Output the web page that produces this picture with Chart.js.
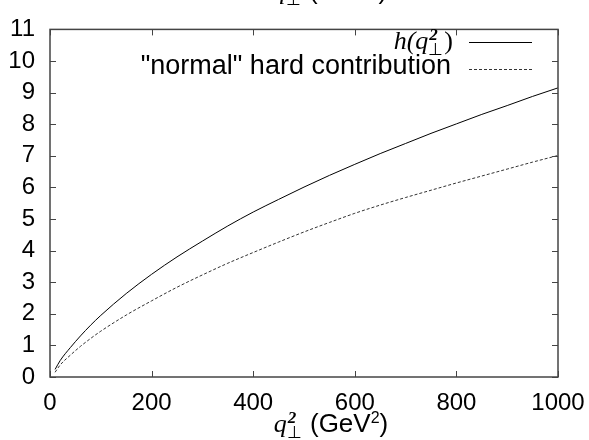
<!DOCTYPE html>
<html>
<head>
<meta charset="utf-8">
<script src="https://cdn.jsdelivr.net/npm/chart.js@4.4.1/dist/chart.umd.min.js"></script>
<style>
  html, body { margin: 0; padding: 0; background: #fff; }
  #wrap { width: 589px; height: 440px; position: relative; }
</style>
</head>
<body>
<div id="wrap"><canvas id="chart"></canvas></div>
<script>
// q_perp^2 values (GeV^2)
const qValues = [10, 20, 40, 60, 80, 100, 150, 200, 250, 300, 350, 400, 450, 500, 550, 600, 650, 700, 750, 800, 850, 900, 950, 1000];
// h(q_perp^2)
const hValues = [0.24, 0.52, 0.93, 1.30, 1.64, 1.95, 2.64, 3.25, 3.80, 4.30, 4.78, 5.22, 5.62, 6.01, 6.38, 6.73, 7.07, 7.39, 7.71, 8.01, 8.31, 8.59, 8.88, 9.15];
// "normal" hard contribution
const normalValues = [0.15, 0.38, 0.69, 0.97, 1.22, 1.45, 1.96, 2.41, 2.84, 3.23, 3.60, 3.94, 4.27, 4.59, 4.89, 5.18, 5.44, 5.68, 5.91, 6.14, 6.36, 6.58, 6.80, 7.01];

const xTicks = [0, 200, 400, 600, 800, 1000];
const yTicks = [0, 1, 2, 3, 4, 5, 6, 7, 8, 9, 10, 11];

const SANS = '"Liberation Sans", Arial, Helvetica, sans-serif';
const SERIF = '"Liberation Serif", "Times New Roman", serif';
const FRAME = '#444';

// q⊥² drawn piecewise: italic q, subscript ⊥, superscript 2
function drawQperp2(ctx, x, y, size) {
    ctx.font = 'italic ' + size + 'px ' + SERIF;
    ctx.fillText('q', x, y);
    const qw = ctx.measureText('q').width;
    const small = Math.round(size * 0.66);
    ctx.font = small + 'px ' + SERIF;
    ctx.fillText('⊥', x + qw, y + size * 0.24);
    ctx.font = 'bold italic ' + small + 'px ' + SERIF;
    ctx.fillText('2', x + qw + 1, y - size * 0.36);
    return qw + ctx.measureText('⊥').width + 1;
}

function axisTitleWidth(ctx, size) {
    ctx.font = 'italic ' + size + 'px ' + SERIF;
    let w = ctx.measureText('q').width;
    ctx.font = Math.round(size * 0.66) + 'px ' + SERIF;
    w += ctx.measureText('⊥').width + 1;
    ctx.font = size + 'px ' + SANS;
    w += ctx.measureText(' (GeV').width + ctx.measureText(')').width;
    ctx.font = Math.round(size * 0.62) + 'px ' + SANS;
    w += ctx.measureText('2').width;
    return w;
}

function drawAxisTitle(ctx, cx, y, size) {
    const w = axisTitleWidth(ctx, size);
    let x = cx - w / 2;
    ctx.textAlign = 'left';
    ctx.textBaseline = 'alphabetic';
    x += drawQperp2(ctx, x, y, size);
    ctx.font = size + 'px ' + SANS;
    ctx.fillText(' (GeV', x, y);
    x += ctx.measureText(' (GeV').width;
    const small = Math.round(size * 0.62);
    ctx.font = small + 'px ' + SANS;
    ctx.fillText('2', x, y - size * 0.36);
    x += ctx.measureText('2').width;
    ctx.font = size + 'px ' + SANS;
    ctx.fillText(')', x, y);
}

// frame, inward ticks, x labels, axis titles and legend in gnuplot style
const gnuplotDecor = {
    id: 'gnuplotDecor',
    afterDraw(chart) {
        const ctx = chart.ctx;
        const area = chart.chartArea;
        const xs = chart.scales.x;
        const ys = chart.scales.y;
        ctx.save();
        ctx.strokeStyle = FRAME;
        ctx.lineWidth = 1.5;
        ctx.strokeRect(area.left, area.top, area.right - area.left, area.bottom - area.top);

        ctx.lineWidth = 1;
        ctx.beginPath();
        xTicks.forEach(v => {
            const px = Math.round(xs.getPixelForValue(v)) + 0.5;
            ctx.moveTo(px, area.bottom); ctx.lineTo(px, area.bottom - 6);
            ctx.moveTo(px, area.top); ctx.lineTo(px, area.top + 6);
        });
        yTicks.forEach(v => {
            const py = Math.round(ys.getPixelForValue(v)) + 0.5;
            ctx.moveTo(area.left, py); ctx.lineTo(area.left + 6, py);
            ctx.moveTo(area.right, py); ctx.lineTo(area.right - 6, py);
        });
        ctx.stroke();

        // x tick labels
        ctx.fillStyle = '#000';
        ctx.font = '24px ' + SANS;
        ctx.textAlign = 'center';
        ctx.textBaseline = 'alphabetic';
        xTicks.forEach(v => {
            ctx.fillText(String(v), xs.getPixelForValue(v), 410);
        });

        // x axis title at the bottom, and the clipped one at the very top
        drawAxisTitle(ctx, 331, 432, 26);
        drawAxisTitle(ctx, 330, -1, 26);

        // legend, top right
        const sampleL = 469, sampleR = 532;
        ctx.textAlign = 'left';
        ctx.textBaseline = 'alphabetic';
        const size = 26;
        ctx.font = 'italic ' + size + 'px ' + SERIF;
        const part1 = ctx.measureText('h(').width;
        const qw = ctx.measureText('q').width;
        ctx.font = Math.round(size * 0.66) + 'px ' + SERIF;
        const pw = ctx.measureText('⊥').width + 1;
        ctx.font = size + 'px ' + SERIF;
        const cw = ctx.measureText(')').width;
        let lx = 453 - (part1 + qw + pw + cw);
        ctx.font = 'italic ' + size + 'px ' + SERIF;
        ctx.fillText('h(', lx, 49);
        lx += part1;
        lx += drawQperp2(ctx, lx, 49, size);
        ctx.font = size + 'px ' + SERIF;
        ctx.fillText(')', lx, 49);

        ctx.font = '27px ' + SANS;
        ctx.textAlign = 'right';
        ctx.fillText('"normal" hard contribution', 451, 74);

        ctx.strokeStyle = '#000';
        ctx.lineWidth = 1;
        ctx.beginPath();
        ctx.moveTo(sampleL, 42.5); ctx.lineTo(sampleR, 42.5);
        ctx.stroke();
        ctx.strokeStyle = '#333';
        ctx.setLineDash([3, 2]);
        ctx.beginPath();
        ctx.moveTo(sampleL, 69.5); ctx.lineTo(sampleR, 69.5);
        ctx.stroke();
        ctx.restore();
    }
};

const ctx = document.getElementById('chart').getContext('2d');
new Chart(ctx, {
    type: 'line',
    data: {
        datasets: [
            {
                label: 'h(q⊥²)',
                data: qValues.map((q, i) => ({ x: q, y: hValues[i] })),
                borderColor: '#000',
                borderWidth: 1,
                pointRadius: 0,
                cubicInterpolationMode: 'monotone',
                fill: false
            },
            {
                label: '"normal" hard contribution',
                data: qValues.map((q, i) => ({ x: q, y: normalValues[i] })),
                borderColor: '#333',
                borderWidth: 1,
                borderDash: [3, 2],
                pointRadius: 0,
                cubicInterpolationMode: 'monotone',
                fill: false
            }
        ]
    },
    options: {
        responsive: true,
        maintainAspectRatio: false,
        animation: false,
        layout: { padding: { top: 21, right: 31, left: 0, bottom: 0 } },
        plugins: {
            legend: { display: false },
            tooltip: { enabled: false }
        },
        scales: {
            x: {
                type: 'linear',
                min: 0,
                max: 1000,
                afterBuildTicks: s => { s.ticks = xTicks.map(v => ({ value: v })); },
                afterFit: s => { s.height = 63; },
                grid: { display: false, drawTicks: false },
                border: { display: false },
                ticks: { display: false }
            },
            y: {
                type: 'linear',
                min: 0,
                max: 11,
                afterBuildTicks: s => { s.ticks = yTicks.map(v => ({ value: v })); },
                afterFit: s => { s.width = 50; },
                grid: { display: false, drawTicks: false },
                border: { display: false },
                ticks: {
                    color: '#000',
                    padding: 15,
                    autoSkip: false,
                    font: { family: SANS, size: 24 }
                }
            }
        }
    },
    plugins: [gnuplotDecor]
});
</script>
</body>
</html>
